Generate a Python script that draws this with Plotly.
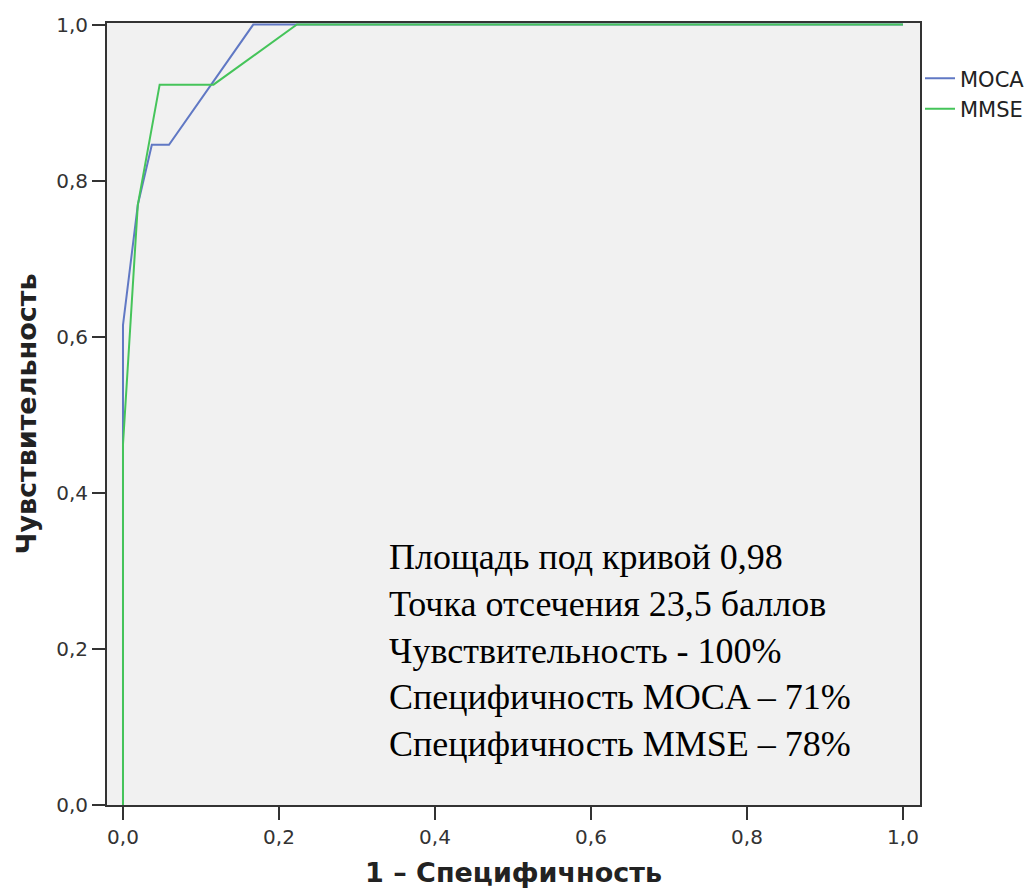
import plotly.graph_objects as go

# ROC curve coordinates (1 - specificity, sensitivity)
moca_fpr = [0.0, 0.0, 0.019, 0.037, 0.059, 0.167, 1.0]
moca_tpr = [0.0, 0.615, 0.769, 0.846, 0.846, 1.0, 1.0]

mmse_fpr = [0.0, 0.0, 0.019, 0.047, 0.116, 0.223, 1.0]
mmse_tpr = [0.0, 0.462, 0.769, 0.923, 0.923, 1.0, 1.0]

x_ticks = [0.0, 0.2, 0.4, 0.6, 0.8, 1.0]
x_tick_text = ["0,0", "0,2", "0,4", "0,6", "0,8", "1,0"]
y_ticks = [0.0, 0.2, 0.4, 0.6, 0.8, 1.0]
y_tick_text = ["0,0", "0,2", "0,4", "0,6", "0,8", "1,0"]

summary_lines = [
    "Площадь под кривой 0,98",
    "Точка отсечения 23,5 баллов",
    "Чувствительность - 100%",
    "Специфичность MOCA – 71%",
    "Специфичность MMSE – 78%",
]

fig = go.Figure()
fig.add_trace(go.Scatter(x=moca_fpr, y=moca_tpr, mode="lines", name="MOCA",
                         legendgroup="a",
                         line=dict(color="#6078c4", width=2)))
fig.add_trace(go.Scatter(x=mmse_fpr, y=mmse_tpr, mode="lines", name="MMSE",
                         legendgroup="b",
                         line=dict(color="#45c45a", width=2)))

fig.add_annotation(
    x=0.339, y=0.198, xref="x", yref="y", xanchor="left", yanchor="middle",
    text="<br>".join(summary_lines), showarrow=False, align="left",
    font=dict(family="Liberation Serif", size=36, color="#000000"),
)

axis_common = dict(
    showgrid=False, zeroline=False, showline=True, linecolor="#333333",
    linewidth=2, mirror=True, ticks="outside", ticklen=13, tickwidth=2,
    tickcolor="#333333", automargin=False,
    tickfont=dict(family="DejaVu Sans", size=20, color="#333333"),
)

fig.update_xaxes(range=[-0.0205, 1.0218], tickvals=x_ticks, ticktext=x_tick_text,
                 title=dict(text="<b>1 – Специфичность</b>",
                            font=dict(family="DejaVu Sans", size=27, color="#222222"),
                            standoff=20),
                 **axis_common)
fig.update_yaxes(range=[0.0, 1.002], tickvals=y_ticks, ticktext=y_tick_text,
                 title=dict(text="<b>Чувствительность</b>",
                            font=dict(family="DejaVu Sans", size=27, color="#222222"),
                            standoff=12),
                 **axis_common)

fig.update_layout(
    width=1032, height=888,
    margin=dict(l=107, r=112, t=23, b=83, autoexpand=False),
    plot_bgcolor="#f1f1f1", paper_bgcolor="#ffffff",
    legend=dict(x=1.0, y=0.955, xanchor="left", yanchor="top",
                font=dict(family="DejaVu Sans", size=21, color="#222222"),
                tracegroupgap=0, bgcolor="rgba(0,0,0,0)"),
    showlegend=True,
)

fig.write_html("out.html")
